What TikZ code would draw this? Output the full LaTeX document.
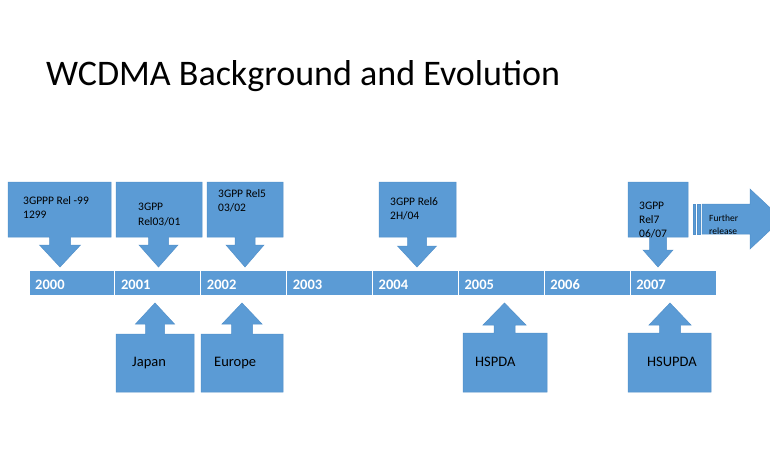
\documentclass[tikz,border=0pt]{standalone}
\usepackage{fontspec}
\setmainfont{Carlito}
\definecolor{accent}{HTML}{5B9BD5}
\definecolor{accentedge}{HTML}{5290CA}

% Rectangle with an arrow on one side:
% #1,#2 = box left/right x, #3 = far edge y, #4 = edge carrying the arrow,
% #5 = arrow axis x, #6 = half shaft width, #7 = half head width,
% #8 = head base y, #9 = tip y
\newcommand\calloutshape[9]{%
  \path[calloutfill] (#1,#3) -- (#2,#3) -- (#2,#4) -- (#5+#6,#4) -- (#5+#6,#8)
    -- (#5+#7,#8) -- (#5,#9) -- (#5-#7,#8) -- (#5-#6,#8) -- (#5-#6,#4)
    -- (#1,#4) -- cycle;}

\begin{document}
\begin{tikzpicture}[x=1pt,y=-1pt,
  calloutfill/.style={fill=accent, draw=accentedge, line width=0.5pt, line join=miter},
  segment/.style={fill=accent, draw=white, line width=1pt},
  yearlbl/.style={anchor=base west, inner sep=0pt, text=white,
    font=\fontsize{14.5}{17}\selectfont\bfseries},
  toplbl/.style={anchor=base west, inner sep=0pt, font=\fontsize{11.5}{14}\selectfont},
  smalllbl/.style={anchor=base west, inner sep=0pt, font=\fontsize{9.5}{12}\selectfont},
  botlbl/.style={anchor=base west, inner sep=0pt, font=\fontsize{14.5}{17}\selectfont}]

\fill[white] (0,0) rectangle (770,474);
\useasboundingbox (0,0) rectangle (770,474);
\clip (0,0) rectangle (770,474);

% Title
\node[anchor=base west, inner sep=0pt, font=\fontsize{36}{43}\selectfont] (title)
  at (46,85) {WCDMA Background and Evolution};

% Timeline bar with year segments
\foreach \i/\yr in {0/2000,1/2001,2/2002,3/2003,4/2004,5/2005,6/2006,7/2007}{
  \path[segment] (29+\i*85.875,270) rectangle (29+\i*85.875+85.875,295);
  \node[yearlbl] (y\yr) at (35+\i*85.875,289.3) {\yr};
}

% Release callouts above the bar
\calloutshape{8}{111}{182}{237}{60}{10.5}{20.5}{245}{267}
\calloutshape{116}{202}{182}{237}{158.5}{10}{19.5}{245}{267}
\calloutshape{207}{283}{182}{237}{245}{10}{19}{245}{267}
\calloutshape{379}{456}{182}{237}{417}{9.5}{19.5}{246}{267}
\calloutshape{628}{688}{182}{237}{658}{8.5}{15}{250}{267}

\node[toplbl] (r99a) at (23,204) {3GPPP Rel -99};
\node[toplbl] (r99b) at (23,218.5) {1299};
\node[toplbl] (r4a) at (138,210) {3GPP};
\node[toplbl] (r4b) at (138,225) {Rel03/01};
\node[toplbl] (r5a) at (218,197.5) {3GPP Rel5};
\node[toplbl] (r5b) at (218,211.5) {03/02};
\node[toplbl] (r6a) at (390,205) {3GPP Rel6};
\node[toplbl] (r6b) at (390,219) {2H/04};
\node[toplbl] (r7a) at (639,209) {3GPP};
\node[toplbl] (r7b) at (639,223) {Rel7};
\node[toplbl] (r7c) at (639,237) {06/07};

% Striped arrow for further releases
\path[calloutfill] (693,204) rectangle (695,234);
\path[calloutfill] (697,204) rectangle (700,234);
\path[calloutfill] (702,204) -- (750,204) -- (750,189) -- (782,219)
  -- (750,249) -- (750,234) -- (702,234) -- cycle;
\node[smalllbl] (fa) at (709,221) {Further};
\node[smalllbl] (fb) at (709,234) {release};

% Deployment callouts below the bar
\calloutshape{116}{194}{392}{334}{155}{9.5}{19.5}{324}{303}
\calloutshape{201}{283}{392}{334}{242}{10.5}{20}{324}{303}
\calloutshape{463}{547}{392}{333}{504.5}{10.5}{21.5}{325}{303}
\calloutshape{628}{711}{392}{333}{670}{10.5}{21}{325}{303}

\node[botlbl] (japan) at (132,366) {Japan};
\node[botlbl] (europe) at (214,366) {Europe};
\node[botlbl] (hspda) at (475,366) {HSPDA};
\node[botlbl] (hsupda) at (647,366) {HSUPDA};
\end{tikzpicture}
\end{document}
